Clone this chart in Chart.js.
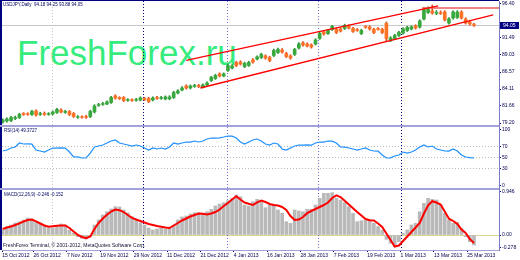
<!DOCTYPE html>
<html>
<head>
<meta charset="utf-8">
<script src="https://cdn.jsdelivr.net/npm/chart.js@4.4.1/dist/chart.umd.min.js"></script>
<style>
  html, body { margin: 0; padding: 0; background: #fff; }
  #wrap { position: relative; width: 520px; height: 260px; overflow: hidden; font-family: 'Liberation Sans', Arial, sans-serif; }
  .pane { position: absolute; left: 0; width: 520px; }
  canvas { display: block; }
  .note { position: absolute; white-space: nowrap; line-height: 1; color: #000060; }
  #watermark { position: absolute; left: 17px; top: 35px; font-size: 35px; line-height: 35px; color: #35ec7c; white-space: nowrap; }
</style>
</head>
<body>
<div id="wrap">
  <div id="watermark">FreshForex.ru</div>
  <div class="pane" style="top:0;height:127px"><canvas id="priceChart" width="520" height="127"></canvas></div>
  <div class="pane" style="top:126px;height:64px"><canvas id="rsiChart" width="520" height="64"></canvas></div>
  <div class="pane" style="top:188px;height:72px"><canvas id="macdChart" width="520" height="72"></canvas></div>
  <div class="note" style="left:3px;top:3px;font-size:4.5px">USDJPY,Daily&nbsp; 94.18 94.25 93.88 94.05</div>
  <div class="note" style="left:4px;top:129px;font-size:4.5px">RSI(14) 49.3727</div>
  <div class="note" style="left:4px;top:193px;font-size:4.5px">MACD(12,26,9) -0.246 -0.152</div>
  <div class="note" style="left:3px;top:243px;font-size:5px;color:#101030">FreshForex Terminal, © 2001-2012, MetaQuotes Software Corp.</div>
</div>
<script>
// дневные свечи USDJPY, 15 окт 2012 - 25 мар 2013
const dateLabels = ['15 Oct 2012', '26 Oct 2012', '7 Nov 2012', '19 Nov 2012', '29 Nov 2012', '11 Dec 2012', '21 Dec 2012',
  '4 Jan 2013', '16 Jan 2013', '28 Jan 2013', '7 Feb 2013', '19 Feb 2013', '1 Mar 2013', '13 Mar 2013', '25 Mar 2013'];
const dateBars = [0, 9, 17, 25, 33, 41, 49, 57, 65, 73, 81, 89, 97, 105, 113];

const opens = [
  79.35, 79.50, 79.56, 79.86, 80.00, 80.57, 80.55, 80.43, 80.94, 80.45,
  80.57, 80.46, 80.51, 80.72, 81.08, 80.74, 80.87, 80.58, 80.04, 80.11,
  80.12, 80.14, 80.80, 81.76, 81.90, 81.95, 82.17, 83.10, 82.88, 82.89,
  82.48, 82.58, 82.49, 82.53, 82.74, 82.75, 82.53, 82.88, 82.77, 82.68,
  82.70, 82.89, 83.54, 83.97, 84.55, 84.27, 84.50, 84.62, 84.41, 84.70,
  85.34, 85.63, 86.29, 86.00, 86.79, 87.15, 87.95, 88.02, 87.37, 87.51,
  88.31, 88.45, 88.67, 88.89, 88.67, 88.96, 89.39, 89.75, 89.25, 88.89,
  89.11, 90.04, 90.77, 90.62, 90.48, 90.62, 91.42, 92.35, 92.13, 92.71,
  92.72, 92.79, 92.86, 93.22, 92.86, 92.70, 92.13, 93.14, 93.08, 92.72,
  92.85, 92.72, 93.58, 91.20, 91.41, 91.85, 92.21, 92.57, 92.79, 93.22,
  93.08, 94.24, 95.17, 95.39, 95.05, 95.15, 95.25, 93.65, 94.38, 94.45,
  95.24, 94.23, 93.80, 93.44
];
const highs = [
  79.82, 79.95, 80.17, 80.20, 80.62, 80.70, 80.68, 81.05, 81.10, 80.75,
  80.80, 80.70, 80.95, 81.32, 81.25, 81.05, 81.00, 80.72, 80.28, 80.25,
  80.30, 81.05, 81.85, 82.05, 82.18, 82.40, 83.05, 83.28, 83.00, 83.02,
  82.72, 82.70, 82.75, 82.98, 82.90, 82.90, 83.00, 83.05, 83.05, 83.12,
  83.15, 83.80, 84.02, 84.45, 84.72, 84.70, 84.80, 84.78, 84.88, 85.15,
  85.95, 86.25, 86.45, 86.45, 87.70, 87.62, 88.12, 88.20, 88.00, 88.12,
  88.50, 88.92, 89.30, 89.05, 88.85, 89.88, 90.02, 89.95, 89.42, 89.05,
  90.00, 90.82, 90.95, 90.80, 90.65, 91.38, 92.32, 92.52, 92.75, 93.32,
  92.88, 92.95, 93.48, 93.40, 93.02, 92.85, 92.75, 93.28, 93.25, 92.88,
  93.00, 92.90, 93.80, 91.68, 92.02, 92.45, 92.95, 93.18, 93.25, 93.40,
  94.12, 95.90, 96.00, 96.26, 95.45, 95.40, 95.42, 94.42, 95.42, 95.45,
  95.42, 94.40, 93.98, 93.60
];
const lows = [
  79.18, 79.33, 79.40, 79.70, 79.85, 80.30, 80.32, 80.30, 80.20, 80.30,
  80.30, 80.32, 80.38, 80.58, 80.65, 80.60, 80.28, 80.00, 79.88, 79.90,
  79.85, 79.98, 80.65, 81.60, 81.75, 81.85, 82.05, 82.65, 82.60, 82.30,
  82.35, 82.32, 82.35, 82.40, 82.45, 82.15, 82.40, 82.60, 82.62, 82.55,
  82.58, 82.75, 83.40, 83.85, 84.10, 84.12, 84.35, 84.32, 84.28, 84.55,
  85.20, 85.50, 85.85, 85.88, 86.65, 87.00, 87.35, 87.58, 87.20, 87.38,
  87.85, 88.30, 88.52, 88.42, 88.05, 88.80, 89.25, 89.30, 88.65, 88.42,
  88.95, 89.90, 90.30, 90.18, 90.02, 90.48, 91.28, 91.90, 92.00, 92.58,
  92.12, 92.35, 92.72, 92.78, 92.28, 92.45, 91.98, 92.90, 92.62, 92.12,
  92.60, 92.12, 91.05, 90.95, 91.28, 91.70, 92.05, 92.42, 92.65, 92.78,
  92.92, 94.10, 95.02, 94.92, 94.85, 94.88, 93.95, 93.50, 94.22, 94.30,
  94.22, 93.50, 93.35, 93.15
];
const closes = [
  79.63, 79.78, 80.00, 80.00, 80.44, 80.43, 80.45, 80.87, 80.36, 80.55,
  80.45, 80.55, 80.79, 81.16, 80.80, 80.86, 80.43, 80.14, 80.10, 80.03,
  80.02, 80.86, 81.66, 81.86, 82.00, 82.24, 82.89, 82.82, 82.76, 82.45,
  82.58, 82.48, 82.57, 82.82, 82.60, 82.31, 82.82, 82.76, 82.87, 82.96,
  82.95, 83.61, 83.83, 84.26, 84.26, 84.55, 84.62, 84.48, 84.70, 84.99,
  85.78, 86.07, 86.00, 86.29, 87.51, 87.44, 87.51, 87.73, 87.81, 87.95,
  88.02, 88.74, 89.11, 88.60, 88.23, 89.68, 89.83, 89.47, 88.81, 88.60,
  89.83, 90.62, 90.48, 90.33, 90.19, 91.20, 92.14, 92.07, 92.57, 93.15,
  92.28, 92.50, 93.30, 92.93, 92.42, 92.58, 92.57, 93.02, 92.79, 92.28,
  92.73, 92.28, 91.41, 91.49, 91.85, 92.29, 92.79, 93.01, 93.08, 92.93,
  93.94, 95.68, 95.61, 95.10, 95.17, 95.03, 94.09, 94.23, 95.24, 95.20,
  94.38, 93.65, 93.51, 93.30
];

const rsiValues = [
  61.6, 63.4, 67.0, 68.8, 75.9, 74.1, 74.3, 73.8, 63.4, 61.6,
  59.8, 63.4, 67.0, 66.8, 67.2, 66.9, 59.8, 50.9, 51.2, 49.1,
  49.4, 58.0, 68.8, 70.5, 72.3, 75.9, 79.5, 81.3, 75.9, 74.1,
  72.3, 70.5, 72.3, 70.5, 67.0, 63.4, 67.0, 65.2, 67.0, 65.2,
  68.8, 75.9, 74.1, 75.9, 77.7, 77.5, 79.5, 77.7, 79.5, 83.0,
  84.8, 84.6, 85.0, 86.6, 88.4, 88.2, 84.8, 77.7, 74.1, 77.7,
  81.3, 83.0, 79.5, 74.1, 72.3, 75.9, 74.1, 65.2, 63.4, 67.0,
  70.5, 72.3, 72.1, 72.4, 72.0, 75.9, 77.7, 77.5, 79.5, 79.3,
  75.9, 68.8, 68.6, 67.0, 65.2, 63.4, 65.2, 67.0, 63.4, 61.6,
  61.4, 54.5, 49.1, 49.3, 52.7, 54.5, 59.8, 58.0, 59.8, 63.4,
  68.8, 72.3, 68.8, 70.5, 65.2, 63.4, 61.6, 61.4, 65.2, 61.6,
  54.5, 50.9, 49.8, 49.4
];

const macdMain = [
  0.110, 0.183, 0.220, 0.264, 0.293, 0.330, 0.374, 0.352, 0.293, 0.264,
  0.198, 0.154, 0.154, 0.183, 0.242, 0.220, 0.110, 0.044, -0.037, -0.073,
  -0.088, -0.037, 0.220, 0.330, 0.440, 0.513, 0.572, 0.623, 0.616, 0.550,
  0.484, 0.403, 0.330, 0.271, 0.220, 0.154, 0.110, 0.132, 0.154, 0.132,
  0.154, 0.220, 0.330, 0.396, 0.418, 0.462, 0.491, 0.491, 0.477, 0.513,
  0.565, 0.638, 0.682, 0.711, 0.755, 0.807, 0.880, 0.843, 0.660, 0.638,
  0.733, 0.785, 0.733, 0.600, 0.660, 0.660, 0.550, 0.477, 0.293, 0.257,
  0.550, 0.528, 0.513, 0.565, 0.565, 0.660, 0.807, 0.917, 0.917, 0.931,
  0.807, 0.770, 0.711, 0.623, 0.477, 0.293, 0.315, 0.330, 0.315, 0.257,
  0.183, 0.110, -0.095, -0.183, -0.257, -0.147, 0.037, 0.110, 0.220, 0.257,
  0.513, 0.697, 0.807, 0.785, 0.770, 0.660, 0.477, 0.330, 0.257, 0.271,
  0.147, -0.037, -0.147, -0.220
];
const macdSignal = [
  0.132, 0.165, 0.187, 0.220, 0.257, 0.297, 0.330, 0.341, 0.301, 0.253,
  0.209, 0.180, 0.191, 0.202, 0.209, 0.209, 0.154, 0.077, 0.004, -0.044,
  -0.070, -0.033, 0.132, 0.264, 0.363, 0.444, 0.517, 0.561, 0.546, 0.506,
  0.440, 0.378, 0.341, 0.308, 0.275, 0.242, 0.220, 0.198, 0.180, 0.165,
  0.154, 0.209, 0.264, 0.319, 0.363, 0.407, 0.440, 0.473, 0.466, 0.451,
  0.473, 0.506, 0.561, 0.638, 0.704, 0.781, 0.851, 0.781, 0.715, 0.686,
  0.660, 0.719, 0.759, 0.726, 0.682, 0.660, 0.647, 0.616, 0.550, 0.418,
  0.330, 0.341, 0.396, 0.480, 0.528, 0.572, 0.616, 0.660, 0.715, 0.814,
  0.873, 0.836, 0.752, 0.671, 0.587, 0.506, 0.429, 0.352, 0.326, 0.319,
  0.253, 0.176, 0.033, -0.110, -0.253, -0.231, -0.132, -0.033, 0.066, 0.165,
  0.264, 0.473, 0.653, 0.744, 0.715, 0.671, 0.517, 0.359, 0.308, 0.246,
  0.121, 0.044, -0.088, -0.176
];

// подписи шкал
const priceTicks = [96.40, 91.49, 89.03, 86.57, 84.11, 81.66, 79.20];
const rsiTicks = [0, 30, 50, 70, 100];
const rsiLevels = [30, 50, 70];
const macdTicks = [-0.278, 0, 0.946];
const macdTickLabels = ['-0.278', '0.00', '0.946'];
const bidLabel = '94.05';

// трендовые линии (бар, цена)
const upperChannel = [{ x: 44.0, y: 88.24 }, { x: 104.4, y: 96.11 }];
const lowerChannel = [{ x: 47.4, y: 84.26 }, { x: 117.6, y: 94.81 }];
const topLevel = [{ x: 100.6, y: 95.82 }, { x: 119.5, y: 95.82 }];

// вертикальные линии
const markerBars = [11.8, 33.7, 53.8, 75.6, 95.6];
const markerColors = ['#c8c8c8', '#000080', '#6a6ad0', '#6a6ad0', '#000080'];

const xMin = -0.17;
const xMax = 119.0;
const tickFont = { family: "'Liberation Sans', Arial, sans-serif", size: 5, lineHeight: 1 };
const axisInk = '#000050';

const isBull = i => closes[i] >= opens[i];

const panelFrame = {
  id: 'panelFrame',
  beforeDatasetsDraw(chart) {
    const { ctx, chartArea: a, scales } = chart;
    ctx.save();
    ctx.lineWidth = 1;
    ctx.setLineDash([1, 2]);
    markerBars.forEach((b, k) => {
      const px = Math.round(scales.x.getPixelForValue(b)) + 0.5;
      ctx.strokeStyle = markerColors[k];
      ctx.beginPath();
      ctx.moveTo(px, a.top);
      ctx.lineTo(px, a.bottom);
      ctx.stroke();
    });
    ctx.restore();
  },
  afterDraw(chart, args, opts) {
    const { ctx, chartArea: a } = chart;
    ctx.save();
    ctx.fillStyle = '#000080';
    ctx.fillRect(0, a.top, 2, a.bottom - a.top);
    if (opts.top) {
      ctx.fillStyle = opts.top;
      ctx.fillRect(0, a.top - 1, a.right, 1);
    }
    if (opts.bottom) {
      ctx.fillStyle = opts.bottom;
      ctx.fillRect(0, a.bottom - 1, a.right, 2);
    }
    ctx.restore();
  }
};

const bidMarker = {
  id: 'bidMarker',
  beforeDatasetsDraw(chart) {
    const { ctx, chartArea: a, scales: { y } } = chart;
    const py = Math.round(y.getPixelForValue(closes[closes.length - 1])) + 0.5;
    ctx.save();
    ctx.strokeStyle = '#c8c8c8';
    ctx.lineWidth = 1;
    ctx.beginPath();
    ctx.moveTo(a.left, py);
    ctx.lineTo(a.right, py);
    ctx.stroke();
    ctx.restore();
  },
  afterDraw(chart) {
    const { ctx, chartArea: a, scales: { y } } = chart;
    const py = Math.round(y.getPixelForValue(closes[closes.length - 1]));
    ctx.save();
    ctx.fillStyle = '#000080';
    ctx.fillRect(a.right + 1, py - 3, 19, 7);
    ctx.fillStyle = '#ffffff';
    ctx.font = "5px 'Liberation Sans', Arial, sans-serif";
    ctx.textBaseline = 'middle';
    ctx.fillText(bidLabel, a.right + 4, py + 0.5);
    ctx.restore();
  }
};

function hiddenX() {
  return {
    type: 'linear', min: xMin, max: xMax, offset: false, display: false,
    grid: { offset: false }
  };
}

function rightAxis(min, max, ticks, labelOf, gridColor, dash) {
  return {
    position: 'right', min, max,
    afterFit: s => { s.width = 21; s.paddingTop = 0; s.paddingBottom = 0; },
    afterBuildTicks: s => { s.ticks = ticks.map(v => ({ value: v })); },
    ticks: { callback: labelOf, font: tickFont, color: axisInk, padding: 1, autoSkip: false },
    grid: { color: gridColor, tickColor: '#000080', tickLength: 2, drawOnChartArea: true },
    border: { color: '#7c7cc4', width: 1, dash: dash }
  };
}

function commonOptions(padding) {
  return {
    responsive: false,
    animation: false,
    devicePixelRatio: 1,
    events: [],
    layout: { padding },
    plugins: { legend: { display: false }, tooltip: { enabled: false } }
  };
}

// основной график
const priceOptions = commonOptions({ left: 2, right: 0, top: 1, bottom: 1 });
priceOptions.plugins.panelFrame = { top: '#000080', bottom: '#a2a2da' };
priceOptions.scales = {
  x: hiddenX(),
  y: rightAxis(78.77, 96.83, priceTicks, v => v.toFixed(2), 'transparent', [])
};

new Chart(document.getElementById('priceChart'), {
  type: 'bar',
  data: {
    datasets: [
      { type: 'line', data: upperChannel, borderColor: '#ff0000', borderWidth: 1.3, pointRadius: 0, order: 0 },
      { type: 'line', data: lowerChannel, borderColor: '#ff0000', borderWidth: 1.3, pointRadius: 0, order: 0 },
      { type: 'line', data: topLevel, borderColor: 'rgba(236,110,110,0.85)', borderWidth: 2, pointRadius: 0, order: 0 },
      {
        data: highs.map((h, i) => ({ x: i, y: [lows[i], h] })),
        backgroundColor: ctx => isBull(ctx.dataIndex) ? '#2a8f35' : '#e2471c',
        barThickness: 1, grouped: false, order: 2
      },
      {
        data: opens.map((o, i) => ({ x: i, y: [o, closes[i]] })),
        backgroundColor: ctx => isBull(ctx.dataIndex) ? '#38a93c' : '#ff7424',
        barThickness: 3, grouped: false, order: 1
      }
    ]
  },
  options: priceOptions,
  plugins: [panelFrame, bidMarker]
});

// RSI
const rsiOptions = commonOptions({ left: 2, right: 0, top: 1, bottom: 1 });
rsiOptions.plugins.panelFrame = { bottom: '#a2a2da' };
rsiOptions.scales = {
  x: hiddenX(),
  y: rightAxis(-6.25, 104.5, rsiTicks, v => String(v),
    ctx => rsiLevels.includes(ctx.tick && ctx.tick.value) ? '#bcbcbc' : 'transparent', [1, 2])
};

new Chart(document.getElementById('rsiChart'), {
  type: 'line',
  data: {
    datasets: [{
      data: rsiValues.map((v, i) => ({ x: i, y: v })),
      borderColor: '#1e90ff', borderWidth: 1.2, pointRadius: 0, tension: 0
    }]
  },
  options: rsiOptions,
  plugins: [panelFrame]
});

// MACD
const macdOptions = commonOptions({ left: 2, right: 0, top: 2, bottom: 0 });
macdOptions.plugins.panelFrame = {};
macdOptions.scales = {
  x: {
    type: 'linear', min: xMin, max: xMax, offset: false,
    afterFit: s => { s.height = 10; s.paddingLeft = 0; s.paddingRight = 0; },
    afterBuildTicks: s => { s.ticks = dateBars.map(b => ({ value: Math.max(b - 1.6, xMin + 0.05) })); },
    ticks: { callback: (v, i) => dateLabels[i], align: 'start', maxRotation: 0, autoSkip: false, font: tickFont, color: axisInk, padding: 1 },
    grid: { drawOnChartArea: false, tickColor: '#000080', tickLength: 2, offset: false },
    border: { color: '#a2a2da', width: 1 }
  },
  y: rightAxis(-0.330, 0.990, macdTicks, (v, i) => macdTickLabels[i],
    ctx => ctx.tick && ctx.tick.value === 0 ? '#dcd68c' : 'transparent', [])
};

new Chart(document.getElementById('macdChart'), {
  type: 'bar',
  data: {
    datasets: [
      { type: 'line', data: macdSignal.map((v, i) => ({ x: i, y: v })), borderColor: '#ff0000', borderWidth: 2, pointRadius: 0, order: 0 },
      { data: macdMain.map((v, i) => ({ x: i, y: v })), backgroundColor: '#b9b9b9', barThickness: 3, order: 1 }
    ]
  },
  options: macdOptions,
  plugins: [panelFrame]
});
</script>
</body>
</html>
